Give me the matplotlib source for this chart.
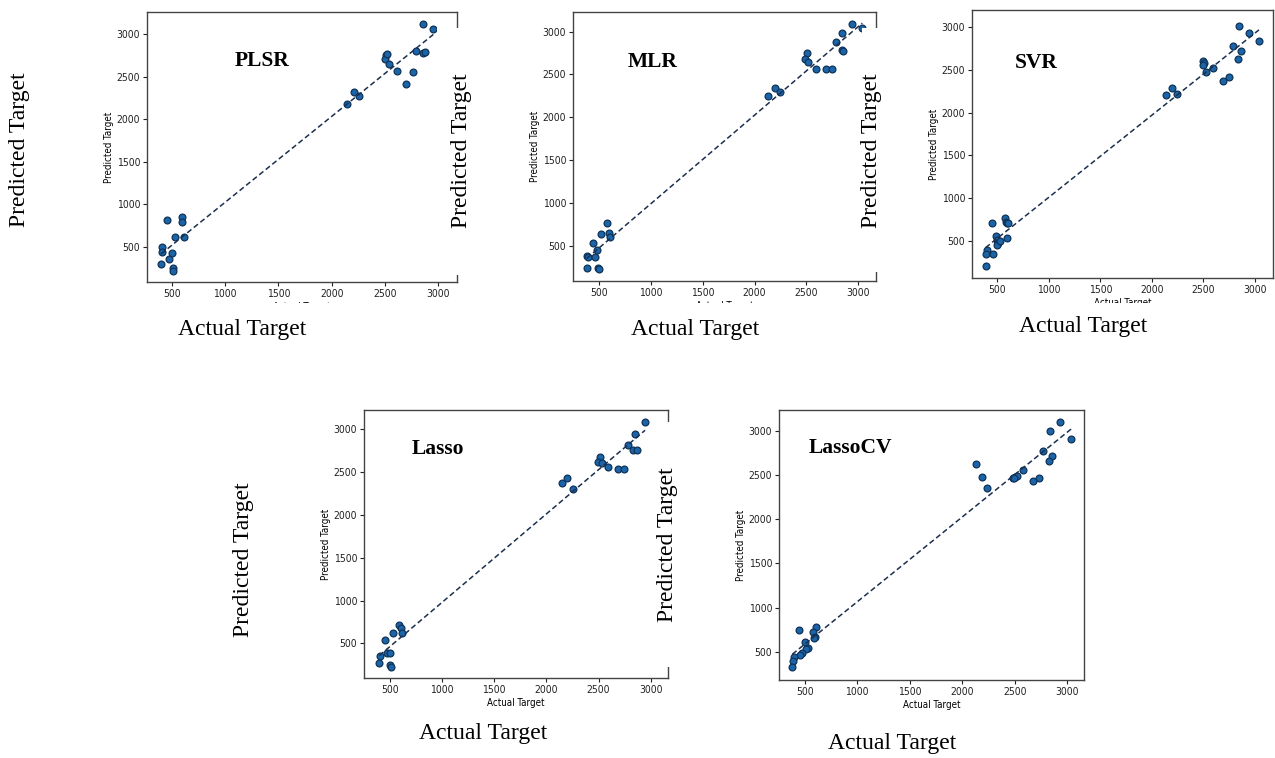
import numpy as np
import matplotlib.pyplot as plt
from matplotlib.patches import Rectangle

plt.rcParams['font.stretch'] = 'condensed'

W, H = 1275, 758

# actual vs predicted
plsr_x = [2859, 2953, 2791, 2853, 2875, 2509, 2500, 2515, 2541, 2609, 2759, 2697,
          2209, 2259, 2147, 459, 594, 600, 531, 616, 406, 406, 500, 478, 400, 509, 516]
plsr_y = [3114, 3059, 2800, 2773, 2792, 2753, 2706, 2760, 2643, 2565, 2557, 2408,
          2314, 2275, 2173, 813, 852, 794, 610, 610, 500, 441, 422, 355, 292, 245, 218]

mlr_x = [2942, 3039, 2846, 2785, 2839, 2855, 2502, 2486, 2518, 2592, 2688, 2743,
         2197, 2245, 2132, 580, 599, 607, 516, 439, 484, 388, 398, 461, 381, 494, 500]
mlr_y = [3086, 3039, 2981, 2875, 2786, 2774, 2755, 2681, 2650, 2564, 2564, 2564,
         2338, 2291, 2252, 761, 644, 598, 632, 527, 449, 383, 372, 364, 243, 243, 224]

svr_x = [2848, 2945, 3039, 2783, 2864, 2838, 2499, 2505, 2492, 2596, 2525, 2748,
         2686, 2198, 2137, 2241, 574, 584, 597, 607, 445, 487, 500, 509, 494, 526,
         597, 397, 390, 461, 387]
svr_y = [3016, 2926, 2836, 2782, 2724, 2626, 2603, 2576, 2556, 2525, 2478, 2420,
         2369, 2291, 2206, 2213, 765, 726, 706, 706, 706, 558, 512, 473, 454, 500,
         531, 395, 345, 345, 212]

lasso_x = [2946, 2850, 2786, 2834, 2866, 2514, 2498, 2530, 2594, 2690, 2744, 2146,
           2200, 2252, 590, 602, 612, 532, 452, 474, 500, 404, 398, 500, 506]
lasso_y = [3090, 2945, 2817, 2759, 2759, 2681, 2622, 2611, 2556, 2533, 2533, 2369,
           2427, 2299, 714, 675, 625, 617, 539, 391, 391, 352, 274, 247, 220]

lassocv_x = [2930, 2835, 3039, 2771, 2851, 2825, 2130, 2190, 2231, 2581, 2479, 2501,
             2517, 2492, 2670, 2733, 446, 605, 579, 595, 586, 500, 532, 510, 478,
             452, 395, 389, 382]
lassocv_y = [3098, 3000, 2909, 2777, 2721, 2664, 2622, 2483, 2350, 2558, 2471, 2483,
             2494, 2464, 2434, 2471, 745, 783, 726, 670, 651, 615, 547, 528, 483,
             464, 445, 389, 321]

names = ['PLSR', 'MLR', 'SVR', 'Lasso', 'LassoCV']
xs_all = [plsr_x, mlr_x, svr_x, lasso_x, lassocv_x]
ys_all = [plsr_y, mlr_y, svr_y, lasso_y, lassocv_y]
ticks = [500, 1000, 1500, 2000, 2500, 3000]

# layout: axes box in pixels (left, top, right, bottom), y range, title centre
boxes = [(147, 12, 457, 282), (573, 12, 876, 281), (972, 10, 1273, 278),
         (364, 410, 668, 678), (779, 410, 1084, 680)]
xlims = [(268, 3175), (249, 3171), (255, 3175), (251, 3166), (255, 3159)]
ylims = [(85, 3258), (88, 3230), (68, 3199), (95, 3225), (179, 3238)]
title_pos = [(262, 61), (653, 62), (1036, 63), (438, 449), (850, 448)]

fig = plt.figure(figsize=(W / 100, H / 100), dpi=100)

for i in range(5):
    l, t, r, b = boxes[i]
    ax = fig.add_axes([l / W, 1 - b / H, (r - l) / W, (b - t) / H])
    x = np.array(xs_all[i], dtype=float)
    y = np.array(ys_all[i], dtype=float)
    ax.scatter(x, y, s=24, c='#1c64a8', edgecolors='#0f3358', linewidths=0.9, zorder=3)
    k, c0 = np.polyfit(x, y, 1)
    xx = np.array([x.min(), x.max()])
    ax.plot(xx, k * xx + c0, ls='--', dashes=(3.5, 2), color='#1b2f4e', lw=1.1, zorder=4)
    ax.set_xlim(xlims[i])
    ax.set_ylim(ylims[i])
    ax.set_xticks(ticks)
    ax.set_yticks(ticks)
    ax.tick_params(labelsize=7.5, length=3, width=0.8, pad=2, colors='#222222')
    ax.set_xlabel('Actual Target', fontsize=7, labelpad=2)
    ax.set_ylabel('Predicted Target', fontsize=7, labelpad=1.5)
    for s in ax.spines.values():
        s.set_color('#444444')
        s.set_linewidth(1.0)
    tx, ty = title_pos[i]
    fig.text(tx / W, 1 - ty / H, names[i], family='Liberation Serif',
             weight='bold', fontsize=15.5, ha='center', va='center')


def cover(l, t, r, b):
    fig.add_artist(Rectangle((l / W, 1 - b / H), (r - l) / W, (b - t) / H,
                             transform=fig.transFigure, facecolor='white',
                             edgecolor='none', zorder=2))


# pieces of the neighbouring images that overlap the panels
cover(437, 28, 480, 275)
cover(862, 28, 897, 272)
cover(652, 422, 690, 667)
cover(140, 303, 1275, 318)

big = dict(family='Liberation Serif', fontsize=17, ha='center', va='center', zorder=3)
for px, py in [(20, 150), (462, 151), (872, 151), (243, 560), (668, 545)]:
    fig.text(px / W, 1 - py / H, 'Predicted Target', rotation=90, **big)
for px, py in [(242, 329), (695, 329), (1083, 327), (483, 733), (892, 743)]:
    fig.text(px / W, 1 - py / H, 'Actual Target', **big)

fig.savefig('out.png', dpi=100)
